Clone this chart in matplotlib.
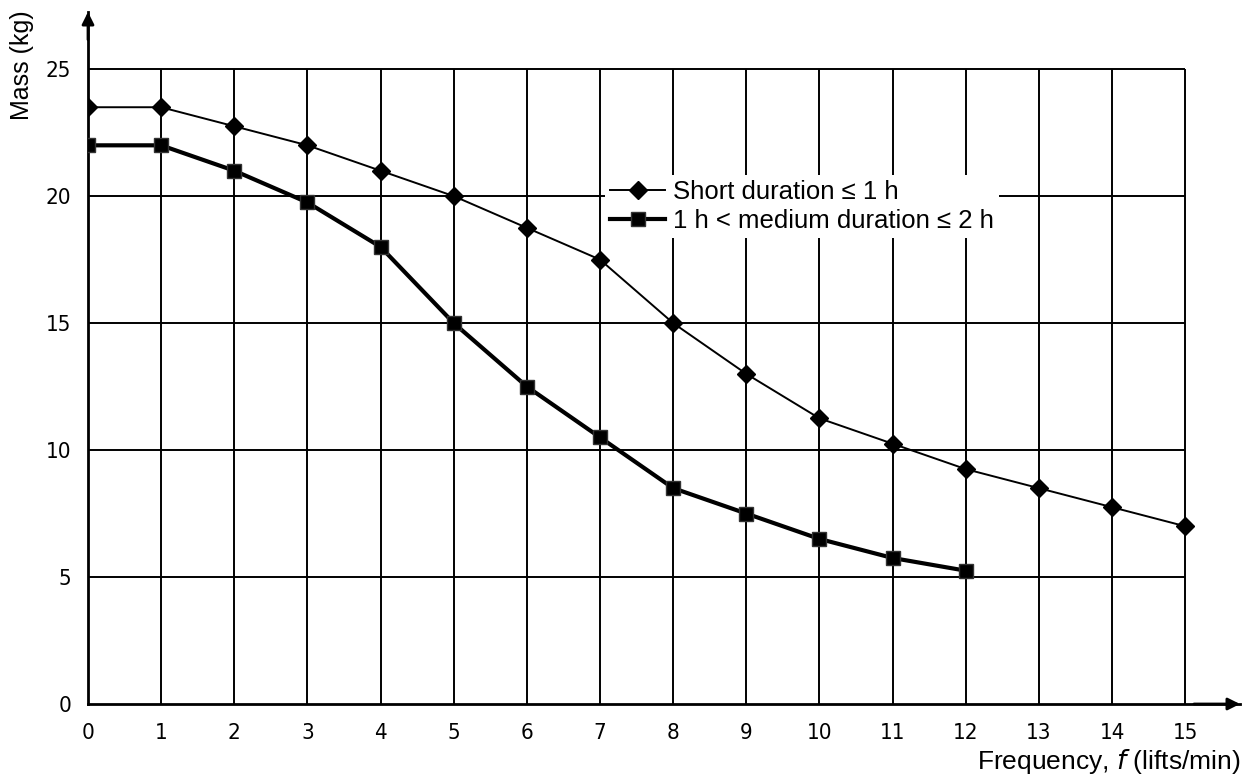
import matplotlib.pyplot as plt

# lifts per minute
freq_short = [0, 1, 2, 3, 4, 5, 6, 7, 8, 9, 10, 11, 12, 13, 14, 15]
mass_short = [23.5, 23.5, 22.75, 22.0, 21.0, 20.0, 18.75, 17.5, 15.0, 13.0,
              11.25, 10.25, 9.25, 8.5, 7.75, 7.0]

freq_medium = [0, 1, 2, 3, 4, 5, 6, 7, 8, 9, 10, 11, 12]
mass_medium = [22.0, 22.0, 21.0, 19.75, 18.0, 15.0, 12.5, 10.5, 8.5, 7.5,
               6.5, 5.75, 5.25]

x_ticks = list(range(0, 16))
y_ticks = [0, 5, 10, 15, 20, 25]

LABEL_SHORT = "Short duration \u2264 1 h"
LABEL_MEDIUM = "1 h < medium duration \u2264 2 h"

plt.rcParams["font.family"] = ["Liberation Sans", "DejaVu Sans"]

fig = plt.figure(figsize=(12.47, 7.8), dpi=100)
ax = fig.add_axes([88 / 1247, 76 / 780, (1240 - 88) / 1247, (704 - 12) / 780])

ax.set_xlim(0, 15.75)
ax.set_ylim(0, 27.25)

# grid box only spans 0..15 x 0..25
ax.vlines(x_ticks[1:], 0, 25, color="black", lw=1.4, zorder=1)
ax.hlines(y_ticks[1:], 0, 15, color="black", lw=1.4, zorder=1)

ax.plot(freq_short, mass_short, color="black", lw=1.4, marker="D",
        markersize=9, zorder=3, label=LABEL_SHORT)
ax.plot(freq_medium, mass_medium, color="black", lw=3.0, marker="s",
        markersize=10, markeredgecolor="#333333", zorder=3, label=LABEL_MEDIUM)

for side in ("top", "right"):
    ax.spines[side].set_visible(False)
for side in ("left", "bottom"):
    ax.spines[side].set_linewidth(2.0)

# arrow heads at the ends of the axes
ax.annotate("", xy=(1.0, 0), xytext=(0.96, 0), xycoords="axes fraction",
            arrowprops=dict(arrowstyle="-|>", color="black", lw=2,
                            mutation_scale=18, shrinkA=0, shrinkB=0))
ax.annotate("", xy=(0, 1.0), xytext=(0, 0.96), xycoords="axes fraction",
            arrowprops=dict(arrowstyle="-|>", color="black", lw=2,
                            mutation_scale=18, shrinkA=0, shrinkB=0))

ax.set_xticks(x_ticks)
ax.set_yticks(y_ticks)
ax.tick_params(length=0, labelsize=16)
ax.tick_params(axis="x", pad=14)
ax.tick_params(axis="y", pad=12)
for lab in ax.get_xticklabels() + ax.get_yticklabels():
    lab.set_family("DejaVu Sans")
    lab.set_fontstretch("condensed")

fig.text(22 / 1247, 1 - 10 / 780, "Mass (kg)", rotation=90, ha="center",
         va="top", fontsize=18)
fig.text(1240 / 1247, 1 - 762 / 780, "Frequency, $f$ (lifts/min)", ha="right",
         va="center", fontsize=19)

leg = ax.legend(loc="upper left", bbox_to_anchor=(592 / 1247, 1 - 162 / 780),
                bbox_transform=fig.transFigure, fontsize=18.5, frameon=True,
                fancybox=False, edgecolor="none", framealpha=1,
                handlelength=2.15, handletextpad=0.3, borderpad=0.2,
                labelspacing=0.2)
leg.get_frame().set_linewidth(0)

fig.savefig("out.png", dpi=100)
